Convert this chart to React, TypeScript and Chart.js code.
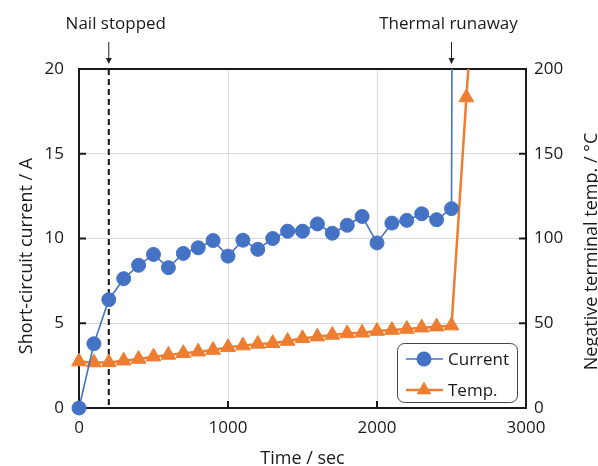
import React, { useEffect, useRef } from "react";
import { Chart, registerables } from "chart.js";

Chart.register(...registerables);

// ---- data ----
const timeSec = [0, 100, 200, 300, 400, 500, 600, 700, 800, 900, 1000, 1100, 1200, 1300, 1400, 1500, 1600, 1700, 1800, 1900, 2000, 2100, 2200, 2300, 2400, 2500];
const currentA = [0, 3.79, 6.39, 7.63, 8.42, 9.06, 8.28, 9.12, 9.45, 9.88, 8.96, 9.9, 9.36, 10.0, 10.43, 10.43, 10.86, 10.31, 10.78, 11.3, 9.74, 10.91, 11.07, 11.46, 11.11, 11.76];
const tempC = [27.4, 26.8, 26.9, 27.9, 28.9, 30.3, 31.3, 32.3, 33.2, 34.2, 35.8, 36.8, 37.8, 38.2, 39.5, 41.1, 42.1, 43.1, 44.0, 44.4, 45.4, 46.0, 46.6, 47.4, 48.0, 48.6];
// thermal runaway (values beyond the axis range)
const currentRunawayTime = [2510];
const currentRunawayA = [40];
const tempRunawayTime = [2600, 2650];
const tempRunawayC = [183.2, 250];

const xTicks = [0, 1000, 2000, 3000];
const leftTicks = [0, 5, 10, 15, 20];
const rightTicks = [0, 50, 100, 150, 200];

const nailStoppedTime = 200;
const thermalRunawayTime = 2500;

const labels = {
  current: "Current",
  temp: "Temp.",
  xTitle: "Time / sec",
  leftTitle: "Short-circuit current / A",
  rightTitle: "Negative terminal temp. / °C",
  nail: "Nail stopped",
  runaway: "Thermal runaway",
};

const BLUE = "#4472C4";
const ORANGE = "#ED7D31";
const FONT = "'Open Sans', 'Noto Sans', sans-serif";
const AXIS = "#1a1a1a";

function drawArrow(ctx: CanvasRenderingContext2D, x: number, y1: number, y2: number) {
  ctx.save();
  ctx.strokeStyle = "#222";
  ctx.fillStyle = "#222";
  ctx.lineWidth = 1;
  ctx.beginPath();
  ctx.moveTo(x, y1);
  ctx.lineTo(x, y2 - 4);
  ctx.stroke();
  ctx.beginPath();
  ctx.moveTo(x - 3, y2 - 6);
  ctx.lineTo(x + 3, y2 - 6);
  ctx.lineTo(x, y2);
  ctx.closePath();
  ctx.fill();
  ctx.restore();
}

const decorPlugin = {
  id: "decor",
  beforeDatasetsDraw(chart: any) {
    const { ctx, chartArea: a, scales } = chart;
    const x = scales.x;
    const yl = scales.y;
    const yr = scales.y2;
    ctx.save();
    // dashed "nail stopped" line
    const nx = x.getPixelForValue(nailStoppedTime);
    ctx.strokeStyle = "#111";
    ctx.lineWidth = 2;
    ctx.setLineDash([6, 4]);
    ctx.beginPath();
    ctx.moveTo(nx, a.top);
    ctx.lineTo(nx, a.bottom);
    ctx.stroke();
    ctx.setLineDash([]);
    // inward ticks
    ctx.lineWidth = 2;
    ctx.strokeStyle = AXIS;
    const tl = 7;
    xTicks.forEach((v) => {
      const px = x.getPixelForValue(v);
      ctx.beginPath();
      ctx.moveTo(px, a.bottom);
      ctx.lineTo(px, a.bottom - tl);
      ctx.stroke();
    });
    leftTicks.forEach((v) => {
      const py = yl.getPixelForValue(v);
      ctx.beginPath();
      ctx.moveTo(a.left, py);
      ctx.lineTo(a.left + tl, py);
      ctx.stroke();
    });
    rightTicks.forEach((v) => {
      const py = yr.getPixelForValue(v);
      ctx.beginPath();
      ctx.moveTo(a.right, py);
      ctx.lineTo(a.right - tl, py);
      ctx.stroke();
    });
    // frame
    ctx.strokeRect(a.left, a.top, a.right - a.left, a.bottom - a.top);
    ctx.restore();
  },
  afterDatasetsDraw(chart: any) {
    const { ctx, chartArea: a, scales } = chart;
    const x = scales.x;
    ctx.save();
    // axis titles
    ctx.fillStyle = "#1a1a1a";
    ctx.font = `18px ${FONT}`;
    ctx.textAlign = "center";
    ctx.textBaseline = "alphabetic";
    ctx.fillText(labels.xTitle, (a.left + a.right) / 2, 464);
    ctx.save();
    ctx.translate(32, 256);
    ctx.rotate(-Math.PI / 2);
    ctx.fillText(labels.leftTitle, 0, 0);
    ctx.restore();
    ctx.save();
    ctx.translate(597, 251.5);
    ctx.rotate(-Math.PI / 2);
    ctx.fillText(labels.rightTitle, 0, 0);
    ctx.restore();

    // annotations
    ctx.font = `17px ${FONT}`;
    const nx = x.getPixelForValue(nailStoppedTime);
    const rx = x.getPixelForValue(thermalRunawayTime);
    ctx.fillText(labels.nail, nx + 7, 29);
    ctx.fillText(labels.runaway, rx - 3, 29);
    drawArrow(ctx, nx, 42, a.top - 5);
    drawArrow(ctx, rx, 42, a.top - 5);

    // legend
    const w = 120, h = 59;
    const bx = a.right - 9 - w;
    const by = a.bottom - 6 - h;
    ctx.beginPath();
    (ctx as any).roundRect(bx + 0.5, by + 0.5, w, h, 7);
    ctx.fillStyle = "#fff";
    ctx.fill();
    ctx.strokeStyle = "#444";
    ctx.lineWidth = 1;
    ctx.stroke();
    const ds = chart.data.datasets;
    [0, 1].forEach((i) => {
      const d = ds[i];
      const cy = by + 16 + i * 31;
      const x1 = bx + 9, x2 = bx + 46, cx = bx + 27;
      ctx.strokeStyle = d.borderColor;
      ctx.lineWidth = d.borderWidth;
      ctx.beginPath();
      ctx.moveTo(x1, cy);
      ctx.lineTo(x2, cy);
      ctx.stroke();
      ctx.fillStyle = d.backgroundColor;
      ctx.beginPath();
      if (d.pointStyle === "triangle") {
        const r = 8.5;
        ctx.moveTo(cx, cy - r);
        ctx.lineTo(cx + r * 0.866, cy + r * 0.5);
        ctx.lineTo(cx - r * 0.866, cy + r * 0.5);
        ctx.closePath();
      } else {
        ctx.arc(cx, cy, 7.5, 0, Math.PI * 2);
      }
      ctx.fill();
      ctx.fillStyle = "#1a1a1a";
      ctx.font = `17px ${FONT}`;
      ctx.textAlign = "left";
      ctx.textBaseline = "middle";
      ctx.fillText(d.label, bx + 51, cy + 1);
    });
    ctx.restore();
  },
};

export default function App() {
  const ref = useRef<HTMLCanvasElement | null>(null);
  useEffect(() => {
    if (!ref.current) return;
    const currentPts = timeSec.map((t, i) => ({ x: t, y: currentA[i] })).concat(
      currentRunawayTime.map((t, i) => ({ x: t, y: currentRunawayA[i] }))
    );
    const tempPts = timeSec.map((t, i) => ({ x: t, y: tempC[i] })).concat(
      tempRunawayTime.map((t, i) => ({ x: t, y: tempRunawayC[i] }))
    );
    const currentRadius = currentPts.map((p) => (p.y > 20 ? 0 : 7));
    const tempRadius = tempPts.map((p) => (p.y > 200 ? 0 : 8.5));
    const tickFont = { family: FONT, size: 17 };
    const plain = (v: any) => String(v);
    const chart = new Chart(ref.current, {
      type: "line",
      data: {
        datasets: [
          {
            label: labels.current,
            data: currentPts,
            yAxisID: "y",
            borderColor: BLUE,
            backgroundColor: BLUE,
            borderWidth: 1.6,
            pointRadius: currentRadius,
            pointBorderWidth: 1,
            pointBorderColor: BLUE,
            pointBackgroundColor: BLUE,
            pointStyle: "circle",
            tension: 0,
            clip: { left: 12, right: 0, top: 0, bottom: 12 } as any,
          },
          {
            label: labels.temp,
            data: tempPts,
            yAxisID: "y2",
            borderColor: ORANGE,
            backgroundColor: ORANGE,
            borderWidth: 2.5,
            pointRadius: tempRadius,
            pointBorderWidth: 1,
            pointBorderColor: ORANGE,
            pointBackgroundColor: ORANGE,
            pointStyle: "triangle",
            tension: 0,
            clip: { left: 12, right: 0, top: 0, bottom: 12 } as any,
          },
        ],
      },
      options: {
        animation: false,
        responsive: false,
        layout: { padding: { top: 69, left: 0, right: 0, bottom: 0 } },
        plugins: { legend: { display: false }, tooltip: { enabled: false } },
        scales: {
          x: {
            type: "linear",
            min: 0,
            max: 3000,
            afterBuildTicks: (s: any) => { s.ticks = xTicks.map((v) => ({ value: v })); },
            afterFit: (s: any) => { s.height = 58; },
            grid: { color: "#d9d9d9", lineWidth: 1, drawTicks: false },
            border: { display: false },
            ticks: { font: tickFont, color: "#1a1a1a", padding: 10, maxRotation: 0, callback: plain },
          },
          y: {
            type: "linear",
            position: "left",
            min: 0,
            max: 20,
            afterBuildTicks: (s: any) => { s.ticks = leftTicks.map((v) => ({ value: v })); },
            afterFit: (s: any) => { s.width = 79; },
            grid: { color: "#d9d9d9", lineWidth: 1, drawTicks: false },
            border: { display: false },
            ticks: { font: tickFont, color: "#1a1a1a", padding: 15, callback: plain },
          },
          y2: {
            type: "linear",
            position: "right",
            min: 0,
            max: 200,
            afterBuildTicks: (s: any) => { s.ticks = rightTicks.map((v) => ({ value: v })); },
            afterFit: (s: any) => { s.width = 72; },
            grid: { display: false, drawTicks: false },
            border: { display: false },
            ticks: { font: tickFont, color: "#1a1a1a", padding: 8, callback: plain },
          },
        },
      },
      plugins: [decorPlugin],
    } as any);
    return () => chart.destroy();
  }, []);
  return (
    <div style={{ position: "absolute", left: 0, top: 0, width: 598, height: 466, background: "#fff" }}>
      <canvas ref={ref} width={598} height={466} style={{ display: "block" }} />
    </div>
  );
}
